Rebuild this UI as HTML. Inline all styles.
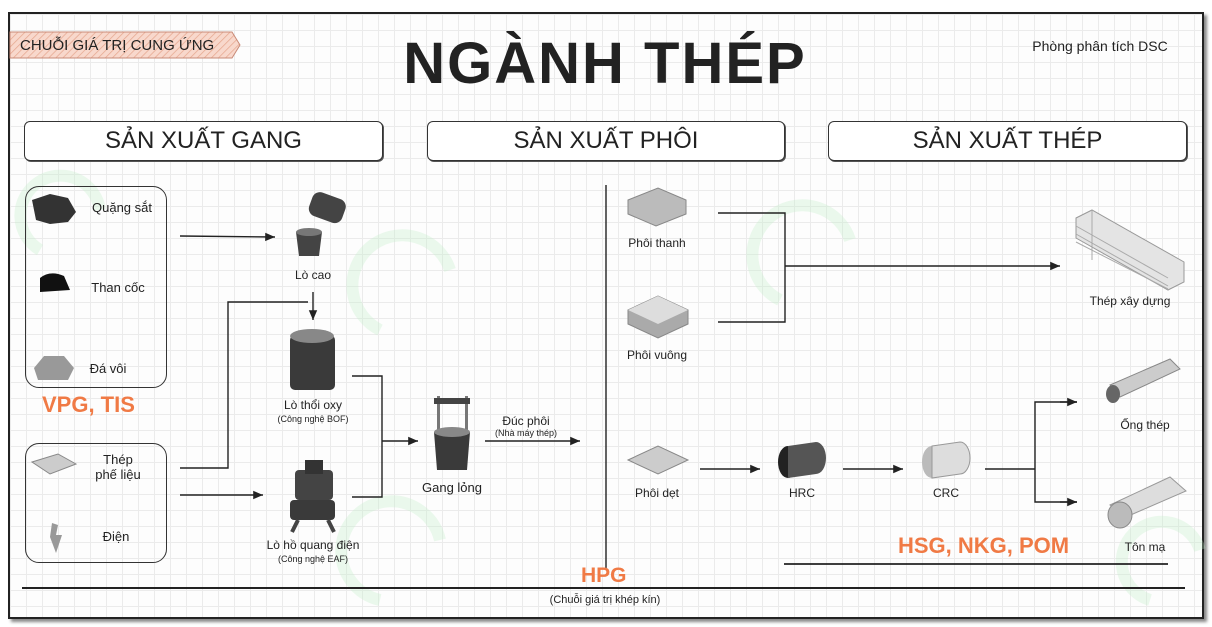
<!DOCTYPE html>
<html><head><meta charset="utf-8"><style>
*{margin:0;padding:0;box-sizing:border-box}
body{width:1212px;height:627px;background:#fff;position:relative;overflow:hidden;font-family:"Liberation Sans","DejaVu Sans",sans-serif;color:#222}
#frame{position:absolute;left:8px;top:12px;width:1196px;height:607px;border:2px solid #222;box-shadow:3px 3px 3px #888;
background-color:#fdfdfd;
background-image:linear-gradient(#ebebeb 1px,transparent 1px),linear-gradient(90deg,#ebebeb 1px,transparent 1px);
background-size:16px 16px}
.t{position:absolute;white-space:nowrap;transform:translateX(-50%);font-size:12px}
.sec{position:absolute;top:121px;height:40px;border:1.5px solid #333;border-radius:6px;font-size:24px;text-align:center;line-height:38px;background:#fff;box-shadow:1px 1px 0 #555}
.box{position:absolute;border:1.6px solid #333;border-radius:14px}
.or{position:absolute;color:#f07a45;font-weight:bold;white-space:nowrap}
</style></head><body>
<div id="frame"></div>
<svg width="1212" height="627" style="position:absolute;left:0;top:0">
<defs><marker id="a" markerWidth="8" markerHeight="8" refX="7" refY="4" orient="auto"><path d="M0,1 L7,4 L0,7 z" fill="#222"/></marker>
<pattern id="h" width="5" height="5" patternUnits="userSpaceOnUse" patternTransform="rotate(45)"><rect width="5" height="5" fill="#f8d8cc"/><line x1="0" y1="0" x2="0" y2="5" stroke="#e6a890" stroke-width="1.5"/></pattern></defs>
<g fill="none" stroke="#bff0c8" stroke-width="12" opacity=".3">
<path d="M40,250 a40,40 0 1,1 60,-40"/><path d="M380,330 a50,50 0 1,1 70,-60"/><path d="M780,300 a50,50 0 1,1 70,-60"/><path d="M380,600 a50,50 0 1,1 60,-60"/><path d="M1150,600 a40,40 0 1,1 50,-50"/>
</g>
<path d="M10,32 L232,32 L240,45 L232,58 L10,58 z" fill="url(#h)" stroke="#c98a77" stroke-width="1"/>
<g stroke="#222" stroke-width="1.4" fill="none">
<line x1="180" y1="236" x2="275" y2="237" marker-end="url(#a)"/>
<line x1="313" y1="292" x2="313" y2="320" marker-end="url(#a)"/>
<polyline points="308,302 228,302 228,468 180,468"/>
<line x1="180" y1="495" x2="263" y2="495" marker-end="url(#a)"/>
<polyline points="352,376 382,376 382,497 352,497"/>
<line x1="382" y1="441" x2="418" y2="441" marker-end="url(#a)"/>
<line x1="485" y1="441" x2="580" y2="441" marker-end="url(#a)"/>
<line x1="606" y1="185" x2="606" y2="568"/>
<line x1="22" y1="588" x2="1185" y2="588" stroke-width="2"/>
<polyline points="718,213 785,213 785,322 718,322"/>
<line x1="785" y1="266" x2="1060" y2="266" marker-end="url(#a)"/>
<line x1="700" y1="469" x2="760" y2="469" marker-end="url(#a)"/>
<line x1="843" y1="469" x2="903" y2="469" marker-end="url(#a)"/>
<polyline points="985,469 1035,469"/>
<polyline points="1077,402 1035,402 1035,502 1077,502"/>
<line x1="1060" y1="402" x2="1077" y2="402" marker-end="url(#a)"/>
<line x1="1060" y1="502" x2="1077" y2="502" marker-end="url(#a)"/>
<line x1="784" y1="564" x2="1168" y2="564" stroke-width="1.8"/>
</g>
<g>
<path d="M32,200 l18,-6 l18,4 l8,14 l-8,10 l-18,2 l-14,-4 z" fill="#333"/>
<path d="M40,278 q10,-8 24,-2 l6,14 l-30,2 z" fill="#111"/>
<path d="M34,368 l10,-12 l20,0 l10,12 l-6,12 l-30,0 z" fill="#999"/>
<path d="M32,462 l26,-8 l18,10 l-26,10 z" fill="#ccc" stroke="#888"/>
<path d="M52,523 l6,2 l-2,10 l6,0 l-6,18 l-6,-16 z" fill="#999"/>
<rect x="310" y="195" width="35" height="25" rx="8" fill="#444" transform="rotate(20 327 207)"/>
<path d="M296,232 l26,0 l-3,24 l-20,0 z" fill="#444"/><ellipse cx="309" cy="232" rx="13" ry="4" fill="#777"/>
<rect x="290" y="335" width="45" height="55" rx="5" fill="#3a3a3a"/><ellipse cx="312" cy="336" rx="22" ry="7" fill="#888"/>
<rect x="295" y="470" width="38" height="30" rx="4" fill="#444"/><rect x="305" y="460" width="18" height="14" fill="#333"/><rect x="290" y="500" width="45" height="20" rx="4" fill="#3a3a3a"/><line x1="298" y1="520" x2="292" y2="532" stroke="#444" stroke-width="4"/><line x1="328" y1="520" x2="334" y2="532" stroke="#444" stroke-width="4"/>
<rect x="437" y="396" width="3" height="40" fill="#777"/><rect x="465" y="396" width="3" height="40" fill="#777"/><rect x="434" y="398" width="36" height="6" fill="#444"/>
<path d="M434,432 l36,0 l-3,38 l-30,0 z" fill="#3a3a3a"/><ellipse cx="452" cy="432" rx="18" ry="5" fill="#888"/>
<path d="M628,200 l30,-12 l28,12 l0,14 l-30,12 l-28,-12 z" fill="#bbb" stroke="#888"/>
<path d="M628,310 l30,-14 l30,14 l0,14 l-30,14 l-30,-14 z" fill="#aaa" stroke="#888"/><path d="M628,310 l30,14 l30,-14 l-30,-14z" fill="#ddd"/>
<path d="M628,460 l30,-14 l30,14 l-30,14 z" fill="#ccc" stroke="#888"/>
<ellipse cx="788" cy="462" rx="10" ry="16" fill="#222"/><path d="M788,446 l28,-4 a10,16 0 0,1 0,32 l-28,4 z" fill="#555"/>
<ellipse cx="932" cy="462" rx="10" ry="16" fill="#bbb"/><path d="M932,446 l28,-4 a10,16 0 0,1 0,32 l-28,4 z" fill="#ddd" stroke="#999"/>
<path d="M1076,218 l16,-8 l92,52 l0,20 l-16,8 l-92,-52 z" fill="#e4e4e4" stroke="#999"/>
<g stroke="#aaa"><line x1="1076" y1="226" x2="1168" y2="278"/><line x1="1076" y1="234" x2="1168" y2="286"/><line x1="1076" y1="242" x2="1168" y2="289"/><line x1="1092" y1="210" x2="1092" y2="260"/></g>
<path d="M1110,385 l60,-26 l10,10 l-60,28 z" fill="#ccc" stroke="#888"/><ellipse cx="1113" cy="394" rx="7" ry="9" fill="#666"/>
<path d="M1110,505 l60,-28 l16,14 l-60,26 z" fill="#ddd" stroke="#999"/><ellipse cx="1120" cy="515" rx="12" ry="13" fill="#bbb" stroke="#888"/>
</g>
</svg>
<div class="t" style="top:37px;font-size:15px;transform:none;left:20px">CHUỖI GIÁ TRỊ CUNG ỨNG</div>
<div class="t" style="left:605px;top:30px;font-size:58px;font-weight:bold;letter-spacing:2px">NGÀNH THÉP</div>
<div class="t" style="left:1100px;top:38px;font-size:14px">Phòng phân tích DSC</div>
<div class="sec" style="left:24px;width:359px">SẢN XUẤT GANG</div>
<div class="sec" style="left:427px;width:358px">SẢN XUẤT PHÔI</div>
<div class="sec" style="left:828px;width:359px">SẢN XUẤT THÉP</div>
<div class="box" style="left:25px;top:186px;width:142px;height:202px"></div>
<div class="box" style="left:25px;top:443px;width:142px;height:120px"></div>
<div class="t" style="left:122px;top:200px;font-size:13px">Quặng sắt</div>
<div class="t" style="left:118px;top:280px;font-size:13px">Than cốc</div>
<div class="t" style="left:108px;top:361px;font-size:13px">Đá vôi</div>
<div class="or" style="left:42px;top:392px;font-size:22px">VPG, TIS</div>
<div class="t" style="left:118px;top:452px;font-size:13px;text-align:center">Thép<br>phế liệu</div>
<div class="t" style="left:116px;top:529px;font-size:13px">Điện</div>
<div class="t" style="left:313px;top:268px">Lò cao</div>
<div class="t" style="left:313px;top:398px">Lò thổi oxy</div>
<div class="t" style="left:313px;top:414px;font-size:9px">(Công nghệ BOF)</div>
<div class="t" style="left:313px;top:538px">Lò hồ quang điện</div>
<div class="t" style="left:313px;top:554px;font-size:9px">(Công nghệ EAF)</div>
<div class="t" style="left:452px;top:480px;font-size:13px">Gang lỏng</div>
<div class="t" style="left:526px;top:414px">Đúc phôi</div>
<div class="t" style="left:526px;top:428px;font-size:9px">(Nhà máy thép)</div>
<div class="t" style="left:657px;top:236px">Phôi thanh</div>
<div class="t" style="left:657px;top:348px">Phôi vuông</div>
<div class="t" style="left:657px;top:486px">Phôi dẹt</div>
<div class="t" style="left:802px;top:486px">HRC</div>
<div class="t" style="left:946px;top:486px">CRC</div>
<div class="t" style="left:1130px;top:294px">Thép xây dựng</div>
<div class="t" style="left:1145px;top:418px">Ống thép</div>
<div class="t" style="left:1145px;top:540px">Tôn mạ</div>
<div class="or" style="left:898px;top:533px;font-size:22px">HSG, NKG, POM</div>
<div class="or" style="left:581px;top:564px;font-size:21px">HPG</div>
<div class="t" style="left:605px;top:594px;font-size:11px">(Chuỗi giá trị khép kín)</div>
</body></html>
